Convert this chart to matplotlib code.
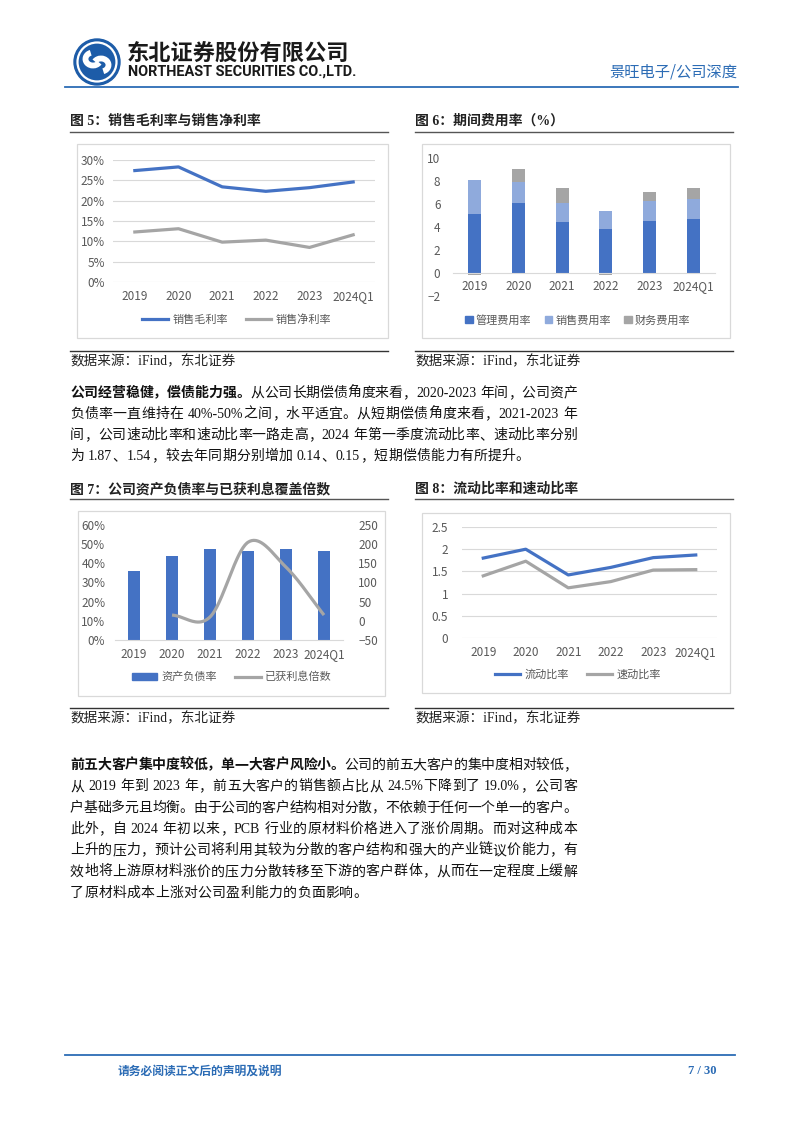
import numpy as np
import matplotlib
matplotlib.use('Agg')
import matplotlib.pyplot as plt
from matplotlib.patches import Rectangle, Circle, Arc, Patch
from matplotlib.lines import Line2D

plt.rcParams['font.family'] = ['Noto Sans CJK SC', 'DejaVu Sans']
plt.rcParams['axes.unicode_minus'] = False

# ---------------- data ----------------
years = ['2019', '2020', '2021', '2022', '2023', '2024Q1']
gross_margin = [27.4, 28.3, 23.4, 22.3, 23.2, 24.6]      # %
net_margin = [12.3, 13.1, 9.8, 10.3, 8.5, 11.6]          # %
pct_ticks5 = [0, 5, 10, 15, 20, 25, 30]

mgmt_exp = [5.1, 6.1, 4.4, 3.8, 4.5, 4.7]
sales_exp = [3.0, 1.8, 1.7, 1.6, 1.8, 1.7]
fin_exp = [-0.15, 1.1, 1.25, -0.17, 0.75, 1.0]
exp_ticks = [-2, 0, 2, 4, 6, 8, 10]

debt_ratio = [36.0, 44.0, 47.7, 46.4, 47.7, 46.6]        # %
debt_ticks = [0, 10, 20, 30, 40, 50, 60]
cov_years = ['2020', '2021', '2022', '2023', '2024Q1']
interest_cov = [15, 10, 205, 140, 15]
cov_ticks = [-50, 0, 50, 100, 150, 200, 250]

current_ratio = [1.80, 2.00, 1.42, 1.59, 1.81, 1.87]
quick_ratio = [1.40, 1.73, 1.13, 1.27, 1.53, 1.54]
ratio_ticks = [0, 0.5, 1, 1.5, 2, 2.5]
ratio_labels = ['0', '0.5', '1', '1.5', '2', '2.5']

# ---------------- style ----------------
BLUE = '#4472C4'; LBLUE = '#8FAADC'; GRAY = '#A5A5A5'
TICK = '#595959'; GRID = '#D9D9D9'; BOX = '#D9D9D9'
HBLUE = '#2C6CB5'; DARK = '#222222'
BODY = ['Liberation Serif', 'Noto Sans CJK SC']
CJK = ['Noto Sans CJK SC', 'DejaVu Sans']
TS = 8.5

W, H = 802, 1133
fig = plt.figure(figsize=(W / 100, H / 100), dpi=100)
bg = fig.add_axes([0, 0, 1, 1], zorder=0)
bg.set_xlim(0, W); bg.set_ylim(H, 0); bg.axis('off')
renderer = fig.canvas.get_renderer()


def add_ax(x0, y0, x1, y1):
    ax = fig.add_axes([x0 / W, 1 - y1 / H, (x1 - x0) / W, (y1 - y0) / H], zorder=2)
    ax.patch.set_alpha(0)
    return ax


def fpt(x, y):
    return (x / W, 1 - y / H)


def style_ticks(ax, xpad, ypad, size=TS):
    ax.tick_params(axis='both', length=0, labelsize=size, labelcolor=TICK)
    ax.tick_params(axis='x', pad=xpad)
    ax.tick_params(axis='y', pad=ypad)


# ---------------- header ----------------
cx, cy = 97, 62
bg.add_patch(Circle((cx, cy), 23, color='#1D5CA8'))
bg.add_patch(Circle((cx, cy), 19.5, fill=False, ec='white', lw=1.6))
bg.add_patch(Arc((cx - 4, cy - 3), 15, 13, theta1=30, theta2=250, color='white', lw=4.2))
bg.add_patch(Arc((cx + 4, cy + 3), 15, 13, theta1=210, theta2=430, color='white', lw=4.2))
bg.text(127, 53, '东北证券股份有限公司', fontsize=16, fontweight='bold', color='#1a1a1a',
        va='center', ha='left', family=CJK)
eng = bg.text(128, 72, 'NORTHEAST SECURITIES CO.,LTD.', fontsize=10, fontweight='bold',
              color='#1a1a1a', va='center', ha='left', family=['Roboto', 'DejaVu Sans'])
ew = eng.get_window_extent(renderer).width
eng.set_fontsize(10 * 229 / ew)
bg.text(737, 72, '景旺电子/公司深度', fontsize=11, color=HBLUE, va='center', ha='right', family=CJK)
bg.plot([65, 738], [87, 87], color=HBLUE, lw=1.3)

# ---------------- footer ----------------
bg.plot([65, 735], [1055, 1055], color=HBLUE, lw=1.3)
bg.text(118, 1071, '请务必阅读正文后的声明及说明', fontsize=8.5, fontweight='bold', color=HBLUE,
        va='center', ha='left', family=CJK)
bg.text(717, 1071, '7 / 30', fontsize=9, fontweight='bold', color=HBLUE, va='center', ha='right',
        family=['Liberation Serif', 'DejaVu Serif'])

# ---------------- titles / boxes / sources ----------------
titles = [(70, 121, '图 5：销售毛利率与销售净利率'), (415, 121, '图 6：期间费用率（%）'),
          (70, 489, '图 7：公司资产负债率与已获利息覆盖倍数'), (415, 489, '图 8：流动比率和速动比率')]
for x0, y0, t in titles:
    bg.text(x0, y0, t, fontsize=10, fontweight='bold', color=DARK, va='center', ha='left', family=BODY)
for y in (132, 499):
    bg.plot([70, 388], [y, y], color='#555555', lw=1.0)
    bg.plot([415, 733], [y, y], color='#555555', lw=1.0)
for y_line, y_txt in ((351, 362), (708, 719)):
    bg.plot([70, 388], [y_line, y_line], color='#333333', lw=1.0)
    bg.plot([415, 733], [y_line, y_line], color='#333333', lw=1.0)
    for x0 in (70, 415):
        bg.text(x0, y_txt, '数据来源：iFind，东北证券', fontsize=9.8, color=DARK, va='center',
                ha='left', family=BODY)
for (x0, y0, x1, y1) in ((77, 144, 388, 338), (422, 144, 730, 338), (78, 511, 385, 696), (422, 513, 730, 693)):
    bg.add_patch(Rectangle((x0, y0), x1 - x0, y1 - y0, fill=False, ec=BOX, lw=0.9))


# ---------------- body text (justified) ----------------
def tokenize(parts):
    toks = []
    for text, weight in parts:
        buf = ''
        for ch in text:
            if ord(ch) < 128 and ch != ' ':
                buf += ch
            else:
                if buf:
                    toks.append((buf, weight)); buf = ''
                toks.append((ch, weight))
        if buf:
            toks.append((buf, weight))
    return toks


def draw_line(parts, x0, x1, y, size=10, justify=True):
    toks = tokenize(parts)
    arts, widths = [], []
    for s, wgt in toks:
        if s == ' ':
            arts.append(None); widths.append(size * 100 / 72 * 0.25)
            continue
        t = bg.text(0, y, s, fontsize=size, fontweight=wgt, family=BODY, color='#111111',
                    va='baseline', ha='left')
        arts.append(t); widths.append(t.get_window_extent(renderer).width)
    total = sum(widths)
    gap = (x1 - x0 - total) / (len(toks) - 1) if justify and len(toks) > 1 else 0.3
    x = x0
    for a, w in zip(arts, widths):
        if a is not None:
            a.set_x(x)
        x += w + gap


para1 = [
    [('公司经营稳健，偿债能力强。', 'bold'), ('从公司长期偿债角度来看，2020-2023 年间，公司资产', 'normal')],
    [('负债率一直维持在 40%-50%之间，水平适宜。从短期偿债角度来看，2021-2023 年', 'normal')],
    [('间，公司速动比率和速动比率一路走高，2024 年第一季度流动比率、速动比率分别', 'normal')],
    [('为 1.87、1.54，较去年同期分别增加 0.14、0.15，短期偿债能力有所提升。', 'normal')],
]
para2 = [
    [('前五大客户集中度较低，单一大客户风险小。', 'bold'), ('公司的前五大客户的集中度相对较低，', 'normal')],
    [('从 2019 年到 2023 年，前五大客户的销售额占比从 24.5%下降到了 19.0%，公司客', 'normal')],
    [('户基础多元且均衡。由于公司的客户结构相对分散，不依赖于任何一个单一的客户。', 'normal')],
    [('此外，自 2024 年初以来，PCB 行业的原材料价格进入了涨价周期。而对这种成本', 'normal')],
    [('上升的压力，预计公司将利用其较为分散的客户结构和强大的产业链议价能力，有', 'normal')],
    [('效地将上游原材料涨价的压力分散转移至下游的客户群体，从而在一定程度上缓解', 'normal')],
    [('了原材料成本上涨对公司盈利能力的负面影响。', 'normal')],
]
for i, ln in enumerate(para1):
    draw_line(ln, 70, 577, 397 + 21 * i, justify=(i < len(para1) - 1))
for i, ln in enumerate(para2):
    draw_line(ln, 70, 577, 769 + 21.3 * i, justify=(i < len(para2) - 1))

x = np.arange(len(years))

# ---------------- chart 5 ----------------
ax5 = add_ax(113, 160, 375, 282)
ax5.plot(x, gross_margin, color=BLUE, lw=2.3, solid_joinstyle='round')
ax5.plot(x, net_margin, color=GRAY, lw=2.3, solid_joinstyle='round')
ax5.set_xlim(-0.5, len(years) - 0.5); ax5.set_ylim(0, 30)
ax5.set_yticks(pct_ticks5); ax5.set_yticklabels([f'{v}%' for v in pct_ticks5])
ax5.set_xticks(x); ax5.set_xticklabels(years)
ax5.grid(axis='y', color=GRID, lw=0.8); ax5.set_axisbelow(True)
for s in ax5.spines.values():
    s.set_visible(False)
style_ticks(ax5, 6, 6)
ax5.legend([Line2D([], [], color=BLUE, lw=2.3), Line2D([], [], color=GRAY, lw=2.3)],
           ['销售毛利率', '销售净利率'], ncol=2, loc='center', bbox_to_anchor=fpt(237, 320),
           bbox_transform=fig.transFigure, frameon=False, fontsize=8, labelcolor=TICK,
           handlelength=2.3, handletextpad=0.4, columnspacing=1.6)

# ---------------- chart 6 ----------------
ax6 = add_ax(453, 158, 715, 296)
mg = np.array(mgmt_exp); se = np.array(sales_exp); fe = np.array(fin_exp)
ax6.bar(x, mg, 0.3, color=BLUE)
ax6.bar(x, se, 0.3, bottom=mg, color=LBLUE)
ax6.bar(x, fe, 0.3, bottom=np.where(fe >= 0, mg + se, 0), color=GRAY)
ax6.set_xlim(-0.5, len(years) - 0.5); ax6.set_ylim(-2, 10)
ax6.set_yticks(exp_ticks); ax6.set_yticklabels([str(v) if v >= 0 else '−' + str(-v) for v in exp_ticks])
ax6.set_xticks(x); ax6.set_xticklabels(years)
for k, s in ax6.spines.items():
    s.set_visible(k == 'bottom')
ax6.spines['bottom'].set_position(('data', 0))
ax6.spines['bottom'].set_color(GRID)
style_ticks(ax6, 5, 9)
ax6.legend([Patch(color=BLUE), Patch(color=LBLUE), Patch(color=GRAY)],
           ['管理费用率', '销售费用率', '财务费用率'], ncol=3, loc='center', bbox_to_anchor=fpt(578, 320),
           bbox_transform=fig.transFigure, frameon=False, fontsize=8, labelcolor=TICK,
           handlelength=0.65, handleheight=0.65, handletextpad=0.3, columnspacing=1.2)


# ---------------- chart 7 ----------------
def smooth(xs, ys, n=40):
    xs = np.asarray(xs, float); ys = np.asarray(ys, float)
    m = np.zeros_like(ys)
    m[1:-1] = (ys[2:] - ys[:-2]) / (xs[2:] - xs[:-2])
    m[0] = (ys[1] - ys[0]) / (xs[1] - xs[0])
    m[-1] = (ys[-1] - ys[-2]) / (xs[-1] - xs[-2])
    ox, oy = [], []
    for i in range(len(xs) - 1):
        h = xs[i + 1] - xs[i]
        t = np.linspace(0, 1, n)
        h00 = 2 * t**3 - 3 * t**2 + 1; h10 = t**3 - 2 * t**2 + t
        h01 = -2 * t**3 + 3 * t**2; h11 = t**3 - t**2
        ox.append(xs[i] + t * h)
        oy.append(h00 * ys[i] + h10 * h * m[i] + h01 * ys[i + 1] + h11 * h * m[i + 1])
    return np.concatenate(ox), np.concatenate(oy)


ax7 = add_ax(115, 525, 343, 640)
ax7.bar(x, debt_ratio, 0.3, color=BLUE)
ax7.set_xlim(-0.5, len(years) - 0.5); ax7.set_ylim(0, 60)
ax7.set_yticks(debt_ticks); ax7.set_yticklabels([f'{v}%' for v in debt_ticks])
ax7.set_xticks(x); ax7.set_xticklabels(years)
for k, s in ax7.spines.items():
    s.set_visible(k == 'bottom')
ax7.spines['bottom'].set_color(GRID)
style_ticks(ax7, 6, 7)
ax7b = ax7.twinx()
ax7b.patch.set_alpha(0)
cx_idx = np.array([years.index(y) for y in cov_years])
sx, sy = smooth(cx_idx, interest_cov)
ax7b.plot(sx, sy, color=GRAY, lw=2.3, solid_capstyle='butt')
ax7b.set_ylim(-50, 250)
ax7b.set_yticks(cov_ticks); ax7b.set_yticklabels([str(v) if v >= 0 else '−' + str(-v) for v in cov_ticks])
for s in ax7b.spines.values():
    s.set_visible(False)
style_ticks(ax7b, 6, 11)
ax7.legend([Patch(color=BLUE), Line2D([], [], color=GRAY, lw=2.3)],
           ['资产负债率', '已获利息倍数'], ncol=2, loc='center', bbox_to_anchor=fpt(232, 677),
           bbox_transform=fig.transFigure, frameon=False, fontsize=8, labelcolor=TICK,
           handlelength=2.3, handleheight=0.5, handletextpad=0.4, columnspacing=1.6)

# ---------------- chart 8 ----------------
ax8 = add_ax(462, 527, 717, 638)
ax8.plot(x, current_ratio, color=BLUE, lw=2.3, solid_joinstyle='round')
ax8.plot(x, quick_ratio, color=GRAY, lw=2.3, solid_joinstyle='round')
ax8.set_xlim(-0.5, len(years) - 0.5); ax8.set_ylim(0, 2.5)
ax8.set_yticks(ratio_ticks); ax8.set_yticklabels(ratio_labels)
ax8.set_xticks(x); ax8.set_xticklabels(years)
ax8.grid(axis='y', color=GRID, lw=0.8); ax8.set_axisbelow(True)
for s in ax8.spines.values():
    s.set_visible(False)
style_ticks(ax8, 6, 10)
ax8.legend([Line2D([], [], color=BLUE, lw=2.3), Line2D([], [], color=GRAY, lw=2.3)],
           ['流动比率', '速动比率'], ncol=2, loc='center', bbox_to_anchor=fpt(578, 675),
           bbox_transform=fig.transFigure, frameon=False, fontsize=8, labelcolor=TICK,
           handlelength=2.3, handletextpad=0.4, columnspacing=1.6)

fig.savefig('out.png', dpi=100, facecolor='white')
